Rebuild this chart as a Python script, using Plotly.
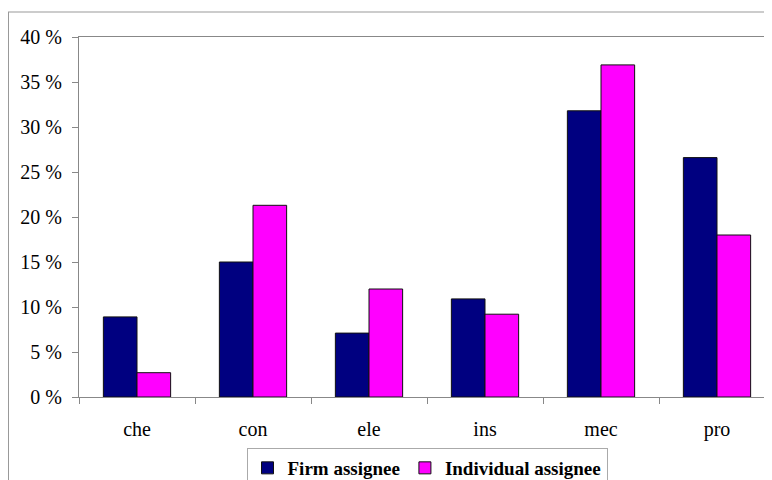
import plotly.graph_objects as go

categories = ["che", "con", "ele", "ins", "mec", "pro"]
firm_assignee = [8.9, 15.0, 7.1, 10.9, 31.8, 26.6]
individual_assignee = [2.7, 21.3, 12.0, 9.2, 36.9, 18.0]
y_ticks = [0, 5, 10, 15, 20, 25, 30, 35, 40]
y_tick_labels = [f"{v} %" for v in y_ticks]

font_serif = "Liberation Serif, Times New Roman, serif"

fig = go.Figure()
fig.add_trace(go.Bar(
    x=categories, y=firm_assignee, name="Firm assignee",
    marker=dict(color="#000080", line=dict(color="#111111", width=1)),
))
fig.add_trace(go.Bar(
    x=categories, y=individual_assignee, name="Individual assignee",
    marker=dict(color="#ff00ff", line=dict(color="#111111", width=1)),
))

# page body has an 8px margin; figure is sized so the window crops it like the reference
W, H = 780, 488
L, T, B, R = 71, 29, 99, 13
PW, PH = W - L - R, H - T - B

fig.update_layout(
    width=W, height=H,
    margin=dict(l=L, r=R, t=T, b=B, autoexpand=False),
    paper_bgcolor="white", plot_bgcolor="white",
    barmode="group", bargap=0.42, bargroupgap=0,
    font=dict(family=font_serif, size=20, color="black"),
    showlegend=True,
    legend=dict(
        orientation="h", x=0.5, xanchor="center", y=-51 / PH, yanchor="top",
        bordercolor="#aaaaaa", borderwidth=1, bgcolor="white",
        font=dict(family=font_serif, size=19, color="black", weight="bold"),
        itemwidth=30, tracegroupgap=0,
    ),
    xaxis=dict(
        range=[-0.5, 5.5], showline=True, linecolor="#888888", linewidth=1,
        mirror=True, ticks="outside", tickson="boundaries", ticklen=6,
        tickcolor="#888888", showgrid=False, zeroline=False,
        ticklabelstandoff=14,
        tickfont=dict(family=font_serif, size=20, color="black"),
    ),
    yaxis=dict(
        range=[0, 40], tickvals=y_ticks, ticktext=y_tick_labels,
        showline=True, linecolor="#888888", linewidth=1,
        ticks="outside", ticklen=6, tickcolor="#888888",
        showgrid=False, zeroline=False, ticklabelstandoff=6,
        tickfont=dict(family=font_serif, size=20, color="black"),
    ),
    shapes=[
        dict(type="line", xref="paper", yref="paper", x0=-L / PW, x1=1.05,
             y0=(PH + T - 4) / PH, y1=(PH + T - 4) / PH,
             line=dict(color="#999999", width=1)),
        dict(type="line", xref="paper", yref="paper", x0=-L / PW + 0.5 / PW,
             x1=-L / PW + 0.5 / PW, y0=(PH + T - 4) / PH, y1=-B / PH,
             line=dict(color="#999999", width=1)),
    ],
)

fig.write_html("out.html")
